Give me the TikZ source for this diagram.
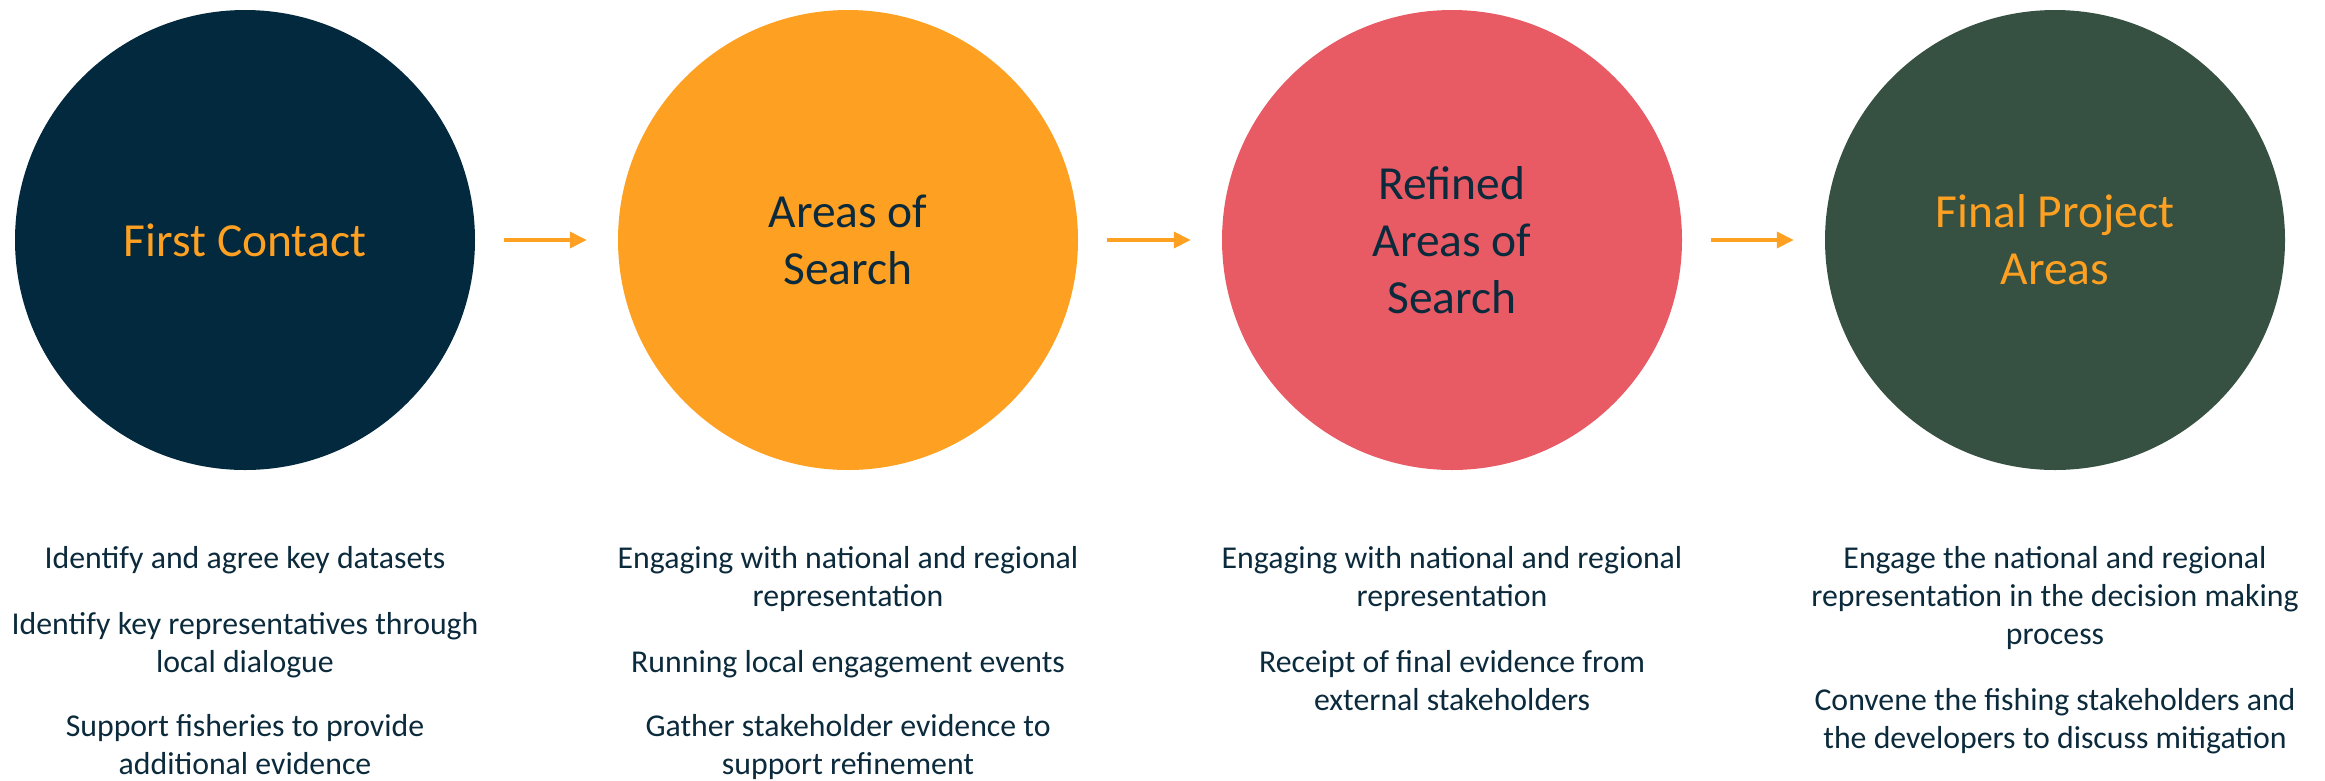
\documentclass[tikz,border=0pt]{standalone}
\usepackage{fontspec}
\setmainfont{Carlito}
\usetikzlibrary{arrows.meta}

\definecolor{navy}{HTML}{02293D}
\definecolor{amber}{HTML}{FEA021}
\definecolor{coral}{HTML}{E85A64}
\definecolor{forest}{HTML}{365141}
\definecolor{ink}{HTML}{0B2A3C}

\begin{document}
\begin{tikzpicture}[x=1pt,y=-1pt,
  stage/.style={circle,minimum size=460pt,inner sep=0pt,align=center,
    font=\fontsize{47.5}{57.3}\selectfont},
  flow/.style={draw=amber,line width=3.7pt,
    -{Triangle[length=17pt,width=16pt,fill=amber]},
    shorten <=29pt,shorten >=31pt},
  % base anchor of a multi-line note sits on its last line
  note/.style={anchor=base,align=center,text=ink,inner sep=0pt,
    font=\fontsize{31.8}{37.7}\selectfont}]
\useasboundingbox (0,0) rectangle (2325,780);

% stages
\node[stage,fill=navy,text=amber]  (s1) at (245,240)  {First Contact};
\node[stage,fill=amber,text=ink]   (s2) at (848,240)  {Areas of\\Search};
\node[stage,fill=coral,text=ink]   (s3) at (1452,240) {Refined\\Areas of\\Search};
\node[stage,fill=forest,text=amber](s4) at (2055,240) {Final Project\\Areas};

% flow between stages
\draw[flow] (s1) -- (s2);
\draw[flow] (s2) -- (s3);
\draw[flow] (s3) -- (s4);

% activities under each stage
\node[note] (a1) at (245,568) {Identify and agree key datasets};
\node[note] (a2) at (245,672) {Identify key representatives through\\local dialogue};
\node[note] (a3) at (245,774) {Support fisheries to provide\\additional evidence};

\node[note] (b1) at (848,606) {Engaging with national and regional\\representation};
\node[note] (b2) at (848,672) {Running local engagement events};
\node[note] (b3) at (848,774) {Gather stakeholder evidence to\\support refinement};

\node[note] (c1) at (1452,606) {Engaging with national and regional\\representation};
\node[note] (c2) at (1452,710) {Receipt of final evidence from\\external stakeholders};

\node[note] (d1) at (2055,644) {Engage the national and regional\\representation in the decision making\\process};
\node[note] (d2) at (2055,748) {Convene the fishing stakeholders and\\the developers to discuss mitigation};
\end{tikzpicture}
\end{document}
